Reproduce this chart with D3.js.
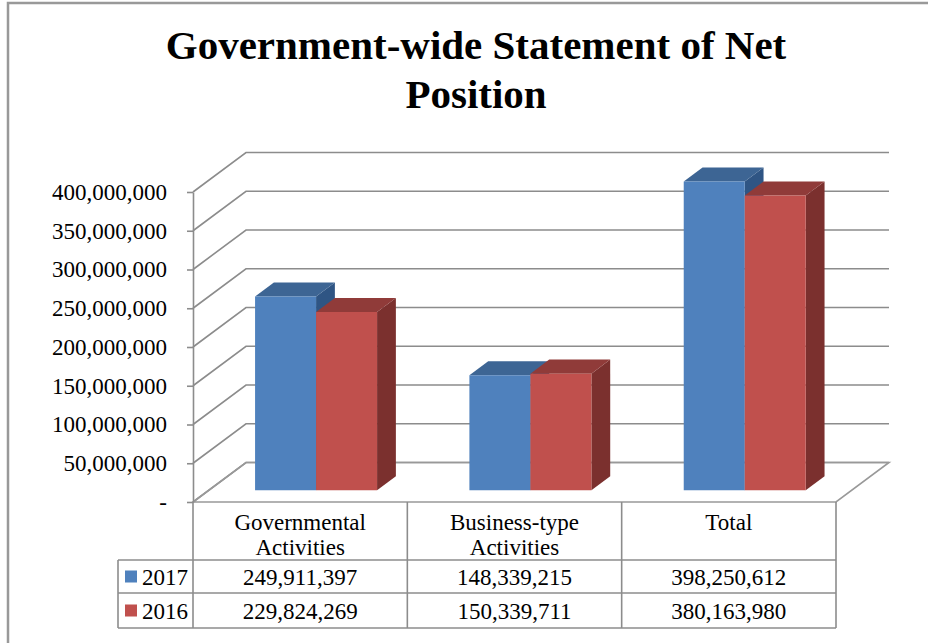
<!doctype html>
<html>
<head>
<meta charset="utf-8">
<script src="https://d3js.org/d3.v7.min.js"></script>
<style>
  body { margin: 0; background: #fff; }
  text { font-family: "Liberation Serif", "Times New Roman", serif; fill: #000; }
</style>
</head>
<body>
<div id="graphic"></div>
<script>

// data
var categories = ["Governmental Activities", "Business-type Activities", "Total"];
var categoryLines = [["Governmental", "Activities"], ["Business-type", "Activities"], ["Total"]];
var years = ["2017", "2016"];
var values2017 = [249911397, 148339215, 398250612];
var values2016 = [229824269, 150339711, 380163980];
var tickValues = [0, 50000000, 100000000, 150000000, 200000000, 250000000, 300000000, 350000000, 400000000];

var seriesValues = { "2017": values2017, "2016": values2016 };
var colors = {
  "2017": { front: "#4f81bd", top: "#3d6594", side: "#2f5584" },
  "2016": { front: "#c0504d", top: "#903b39", side: "#7b302e" }
};

var W = 928, H = 643;
var svg = d3.select("#graphic").append("svg")
  .attr("width", W)
  .attr("height", H);

// depth offset of the 3d box
var DX = 53, DY = -39.5;
function proj(x, y, t) { return [x + DX * t, y + DY * t]; }

var xScale = d3.scaleBand().domain(categories).range([193, 836]);
var yScale = d3.scaleLinear().domain([0, 400000000]).range([502, 192]);
var pairW = 122;
var inner = d3.scaleBand().domain(years).range([0, pairW]);

// frame
svg.append("path")
  .attr("d", "M8," + H + "V3H" + W)
  .attr("fill", "none")
  .attr("stroke", "#999")
  .attr("stroke-width", 2.5);

// title
var title = svg.append("text")
  .attr("text-anchor", "middle")
  .attr("font-family", "Liberation Serif")
  .style("font-size", "41px")
  .style("font-weight", "bold");
title.append("tspan").attr("x", 476).attr("y", 59).text("Government-wide Statement of Net");
title.append("tspan").attr("x", 476).attr("y", 108).text("Position");

// gridlines: left wall + back wall
var gridColor = "#8c8c8c";
var grid = svg.append("g").attr("fill", "none").attr("stroke", gridColor).attr("stroke-width", 1.6);
tickValues.forEach(function(v) {
  var y = yScale(v);
  var b0 = proj(xScale.range()[0], y, 1);
  var b1 = proj(xScale.range()[1], y, 1);
  grid.append("path")
    .attr("d", "M" + xScale.range()[0] + "," + y + "L" + b0[0] + "," + b0[1] + "L" + b1[0] + "," + b1[1]);
});

// floor
var fl = xScale.range()[0], fr = xScale.range()[1], fy = yScale(0);
var floorPts = [[fl, fy], [fr, fy], proj(fr, fy, 1), proj(fl, fy, 1)];
svg.append("path")
  .attr("d", "M" + floorPts.join("L") + "Z")
  .attr("fill", "none")
  .attr("stroke", "#999")
  .attr("stroke-width", 1.6);

// front axis
var yAxis = d3.axisLeft(yScale)
  .tickValues(tickValues)
  .tickSizeInner(6)
  .tickSizeOuter(0)
  .tickPadding(20)
  .tickFormat(function(d) { return d === 0 ? "-" : d3.format(",")(d); });

var axisG = svg.append("g")
  .attr("transform", "translate(193,0)")
  .attr("font-family", "Liberation Serif")
  .call(yAxis);
axisG.select(".domain").attr("stroke", gridColor).attr("stroke-width", 1.6);
axisG.selectAll(".tick line").attr("stroke", gridColor).attr("stroke-width", 1.6);
axisG.selectAll(".tick text")
  .style("font-size", "23px")
  .attr("fill", "#000")
  .attr("dy", "0.32em");

// 3d bars
var t1 = 0.30, t2 = 0.655;
var bars = svg.append("g");
categories.forEach(function(cat, i) {
  years.forEach(function(yr) {
    var v = seriesValues[yr][i];
    var x0 = xScale(cat) + (xScale.bandwidth() - pairW) / 2 + inner(yr);
    var x1 = x0 + inner.bandwidth();
    var yt = yScale(v), yb = yScale(0);
    var c = colors[yr];
    var side = [proj(x1, yt, t1), proj(x1, yb, t1), proj(x1, yb, t2), proj(x1, yt, t2)];
    var top = [proj(x0, yt, t1), proj(x1, yt, t1), proj(x1, yt, t2), proj(x0, yt, t2)];
    var front = [proj(x0, yt, t1), proj(x1, yt, t1), proj(x1, yb, t1), proj(x0, yb, t1)];
    bars.append("path").attr("d", "M" + side.join("L") + "Z").attr("fill", c.side);
    bars.append("path").attr("d", "M" + top.join("L") + "Z").attr("fill", c.top);
    bars.append("path").attr("d", "M" + front.join("L") + "Z").attr("fill", c.front);
  });
});

// data table
var rowTop = 502, rowHead = 560, rowMid = 593, rowBot = 628, legL = 118;
var table = svg.append("g").attr("stroke", "#8c8c8c").attr("stroke-width", 1.6).attr("fill", "none");
var colEdges = [fl].concat(categories.map(function(c) { return xScale(c) + xScale.bandwidth(); }));
colEdges.forEach(function(x) {
  table.append("line").attr("x1", x).attr("x2", x).attr("y1", rowTop).attr("y2", rowBot);
});
table.append("line").attr("x1", legL).attr("x2", legL).attr("y1", rowHead).attr("y2", rowBot);
[rowHead, rowMid, rowBot].forEach(function(y) {
  table.append("line").attr("x1", legL).attr("x2", fr).attr("y1", y).attr("y2", y);
});

// header labels
categories.forEach(function(cat, i) {
  var t = svg.append("text")
    .attr("text-anchor", "middle")
    .attr("font-family", "Liberation Serif")
    .style("font-size", "23px");
  categoryLines[i].forEach(function(line, j) {
    t.append("tspan")
      .attr("x", xScale(cat) + xScale.bandwidth() / 2)
      .attr("y", 530 + j * 24.5)
      .text(line);
  });
});

// value rows + legend
var rowY = { "2017": [rowHead, rowMid], "2016": [rowMid, rowBot] };
years.forEach(function(yr) {
  var r = rowY[yr];
  var cy = (r[0] + r[1]) / 2;
  svg.append("rect")
    .attr("x", 125).attr("y", cy - 6)
    .attr("width", 12).attr("height", 12)
    .attr("fill", colors[yr].front);
  svg.append("text")
    .attr("x", 142).attr("y", cy + 8.5)
    .attr("font-family", "Liberation Serif")
    .style("font-size", "23px")
    .text(yr);
  categories.forEach(function(cat, i) {
    svg.append("text")
      .attr("x", xScale(cat) + xScale.bandwidth() / 2)
      .attr("y", cy + 8.5)
      .attr("text-anchor", "middle")
      .attr("font-family", "Liberation Serif")
      .style("font-size", "23px")
      .text(d3.format(",")(seriesValues[yr][i]));
  });
});

</script>
</body>
</html>
